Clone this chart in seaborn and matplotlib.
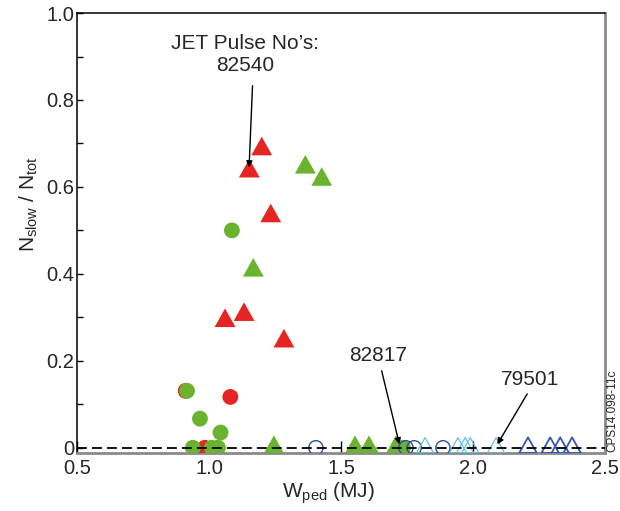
import matplotlib
matplotlib.use("Agg")
import matplotlib.pyplot as plt
from matplotlib.path import Path
import seaborn as sns

# Pedestal stored energy W_ped (MJ) and fraction of slow ELMs N_slow/N_tot
red_circle_w = [0.912, 0.985, 1.081]
red_circle_frac = [0.131, 0.0, 0.117]

green_circle_w = [0.917, 0.966, 1.044, 1.087, 0.939, 1.011, 1.034, 1.735]
green_circle_frac = [0.131, 0.067, 0.035, 0.50, 0.0, 0.0, 0.0, 0.0]

red_tri_w = [1.061, 1.133, 1.153, 1.200, 1.234, 1.284]
red_tri_frac = [0.292, 0.306, 0.636, 0.687, 0.533, 0.245]

green_tri_w = [1.168, 1.365, 1.427, 1.246, 1.553, 1.606, 1.708]
green_tri_frac = [0.408, 0.645, 0.617, 0.0, 0.0, 0.0, 0.0]

blue_circle_w = [1.405, 1.746, 1.777, 1.886]
blue_circle_frac = [0.0, 0.0, 0.0, 0.0]

cyan_tri_w = [1.818, 1.943, 1.970, 1.989, 2.087]
cyan_tri_frac = [0.0, 0.0, 0.0, 0.0, 0.0]

navy_tri_w = [2.208, 2.292, 2.330, 2.375]
navy_tri_frac = [0.0, 0.0, 0.0, 0.0]

x_ticks = [0.5, 1.0, 1.5, 2.0, 2.5]
x_tick_labels = ["0.5", "1.0", "1.5", "2.0", "2.5"]
y_ticks = [0.0, 0.2, 0.4, 0.6, 0.8, 1.0]
y_tick_labels = ["0", "0.2", "0.4", "0.6", "0.8", "1.0"]

# Annotated pulses
pulse_title = "JET Pulse No\u2019s:"
pulse_a = "82540"
pulse_b = "82817"
pulse_c = "79501"

RED = "#E52521"
GREEN = "#69B32E"
BLUE = "#2D4E9E"
CYAN = "#5FC2E2"
NAVY = "#3556AD"

sns.set_theme(style="white")
plt.rcParams["font.family"] = ["Liberation Sans", "DejaVu Sans"]
plt.rcParams["mathtext.default"] = "regular"

fig = plt.figure(figsize=(6.2, 5.11), dpi=100)
ax = fig.add_axes([0.124, 0.1135, 0.852, 0.861])

# triangle whose centroid sits on the data point
tri = Path([(0, 2 / 3), (-0.56, -1 / 3), (0.56, -1 / 3), (0, 2 / 3)], closed=True)

sns.scatterplot(x=red_circle_w, y=red_circle_frac, marker="o", s=130,
                color=RED, edgecolor="none", linewidth=0, ax=ax, zorder=3)
sns.scatterplot(x=green_circle_w, y=green_circle_frac, marker="o", s=130,
                color=GREEN, edgecolor="none", linewidth=0, ax=ax, zorder=3)
sns.scatterplot(x=red_tri_w, y=red_tri_frac, marker=tri, s=320,
                color=RED, edgecolor="none", linewidth=0, ax=ax, zorder=3)
sns.scatterplot(x=green_tri_w, y=green_tri_frac, marker=tri, s=320,
                color=GREEN, edgecolor="none", linewidth=0, ax=ax, zorder=3)
sns.scatterplot(x=blue_circle_w, y=blue_circle_frac, marker="o", s=105,
                color=BLUE, facecolor="none", edgecolor=BLUE, linewidth=1.0,
                ax=ax, zorder=4)
sns.scatterplot(x=cyan_tri_w, y=cyan_tri_frac, marker=tri, s=215,
                color=CYAN, facecolor="none", edgecolor=CYAN, linewidth=0.9,
                ax=ax, zorder=4)
sns.scatterplot(x=navy_tri_w, y=navy_tri_frac, marker=tri, s=225,
                color=NAVY, facecolor="none", edgecolor=NAVY, linewidth=1.3,
                ax=ax, zorder=4)

# zero reference
ax.axhline(0.0, color="black", lw=1.3, ls=(0, (5.5, 2.8)), zorder=6)

ax.set_xlim(0.5, 2.5)
ax.set_ylim(-0.012, 1.0)
ax.set_xticks(x_ticks)
ax.set_xticklabels(x_tick_labels)
ax.set_yticks(y_ticks)
ax.set_yticklabels(y_tick_labels)
ax.set_yticks([0.1, 0.3, 0.5, 0.7, 0.9], minor=True)

ax.tick_params(axis="y", which="both", direction="in", length=4, width=1.0,
               color="black", labelsize=14.5, pad=2, left=True)
ax.tick_params(axis="x", which="major", direction="in", length=9, width=1.0,
               color="black", labelsize=14.5, pad=4, bottom=True)

for side in ("top", "left"):
    ax.spines[side].set_color("black")
    ax.spines[side].set_linewidth(1.1)
for side in ("right", "bottom"):
    ax.spines[side].set_color("#8a8a8a")
    ax.spines[side].set_linewidth(2.0)

ax.set_xlabel("W$_{ped}$ (MJ)", fontsize=15)
ax.set_ylabel("N$_{slow}$ / N$_{tot}$", fontsize=15)
ax.xaxis.set_label_coords(0.477, -0.091)
ax.xaxis.label.set_va("center")
ax.yaxis.set_label_coords(-0.09, 0.566)
ax.yaxis.label.set_va("center")

ax.text(1.136, 0.904, pulse_title + "\n" + pulse_a, fontsize=15,
        ha="center", va="center", linespacing=1.2)
ax.text(1.640, 0.212, pulse_b, fontsize=15, ha="center", va="center")
ax.text(2.216, 0.158, pulse_c, fontsize=15, ha="center", va="center")

arrow = dict(arrowstyle="-|>", color="black", lw=1.0, shrinkA=0, shrinkB=0,
             mutation_scale=9)
ax.annotate("", xy=(1.152, 0.645), xytext=(1.165, 0.833), arrowprops=arrow,
            zorder=7)
ax.annotate("", xy=(1.721, 0.008), xytext=(1.654, 0.177), arrowprops=arrow,
            zorder=7)
ax.annotate("", xy=(2.092, 0.008), xytext=(2.205, 0.124), arrowprops=arrow,
            zorder=7)

fig.text(0.987, 0.197, "CPS14.098-11c", rotation=90, fontsize=8.5,
         ha="center", va="center")

fig.savefig("out.png", dpi=100)
